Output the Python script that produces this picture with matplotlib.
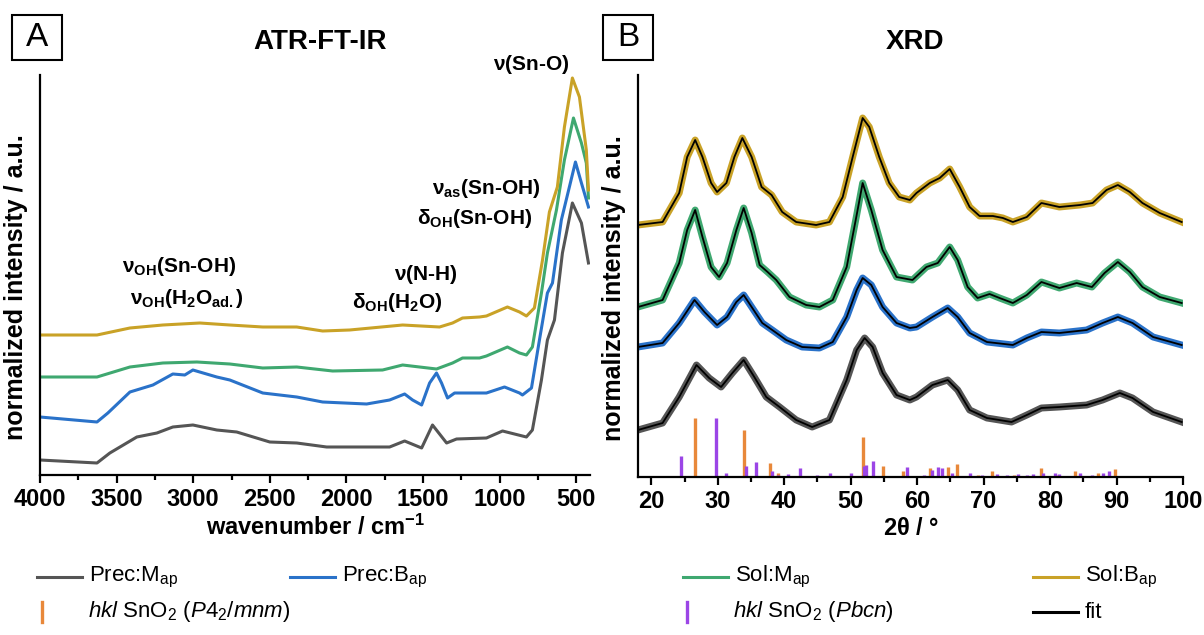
import matplotlib
matplotlib.use("Agg")
import matplotlib.pyplot as plt
from matplotlib.lines import Line2D
from matplotlib.patches import Rectangle
from matplotlib.ticker import MultipleLocator

plt.rcParams['font.family'] = ['Liberation Sans', 'DejaVu Sans']
plt.rcParams['mathtext.fontset'] = 'custom'
plt.rcParams['mathtext.rm'] = 'Liberation Sans'
plt.rcParams['mathtext.bf'] = 'Liberation Sans:bold'
plt.rcParams['mathtext.it'] = 'Liberation Sans:italic'
plt.rcParams['mathtext.default'] = 'regular'

# ---- ATR-FT-IR (wavenumber / cm-1, stacked intensity in a.u.) ----
ir_wn_prec_m = [4000, 3628, 3544, 3368, 3237, 3133, 3002, 2846, 2716, 2500, 2324, 2129, 1718,
                1620, 1509, 1438, 1346, 1281, 1086, 981, 825, 786, 727, 688, 642, 590, 525,
                466, 420]
ir_prec_m = [15, 12, 22, 38, 42, 48, 50, 45, 43, 33, 32, 28, 28,
             34, 27, 50, 32, 36, 37, 44, 38, 45, 95, 135, 155, 222, 272,
             252, 212]

ir_wn_prec_b = [4000, 3628, 3557, 3413, 3263, 3133, 3055, 3002, 2846, 2761, 2546, 2324, 2155,
                1868, 1718, 1620, 1568, 1509, 1457, 1412, 1379, 1340, 1294, 1216, 1086, 968,
                870, 851, 792, 740, 688, 655, 597, 505, 466, 420]
ir_prec_b = [58, 53, 62, 83, 90, 101, 100, 105, 98, 95, 82, 78, 73,
             71, 75, 81, 75, 70, 92, 102, 92, 77, 82, 82, 82, 88,
             82, 80, 87, 135, 182, 192, 255, 313, 292, 268]

ir_wn_sol_m = [4000, 3628, 3413, 3198, 2976, 2761, 2546, 2324, 2090, 1764, 1633, 1412, 1307,
               1242, 1131, 1086, 949, 870, 825, 786, 727, 688, 629, 577, 518, 466, 434, 420]
ir_sol_m = [98, 98, 108, 112, 113, 111, 107, 108, 104, 105, 110, 106, 112,
            117, 117, 119, 128, 122, 120, 128, 182, 222, 265, 315, 357, 332, 312, 277]

ir_wn_sol_b = [4000, 3628, 3413, 3198, 2957, 2761, 2546, 2324, 2155, 1979, 1633, 1392, 1307,
               1242, 1131, 1086, 949, 870, 825, 773, 720, 675, 623, 577, 525, 479, 434, 420]
ir_sol_b = [140, 140, 147, 150, 152, 150, 148, 148, 144, 145, 150, 148, 152,
            157, 158, 159, 168, 163, 159, 167, 215, 263, 288, 348, 397, 378, 325, 285]

# ---- XRD (2theta / deg, stacked intensity in a.u.) ----
xrd_tt_prec_m = [18.0, 21.7, 24.2, 26.8, 28.7, 30.5, 32.2, 33.9, 35.5, 37.3, 39.3, 41.8, 44.2,
                 46.8, 49.4, 50.9, 52.1, 53.3, 54.8, 56.9, 58.9, 59.9, 62.3, 64.6, 66.1, 67.9,
                 70.5, 74.2, 76.5, 78.7, 81.4, 85.5, 87.9, 90.5, 92.4, 95.5, 99.8]
xrd_prec_m = [47, 54, 80, 112, 99, 90, 104, 117, 100, 80, 70, 57, 50,
              57, 97, 127, 139, 130, 104, 82, 77, 80, 92, 97, 87, 67,
              59, 55, 62, 69, 70, 72, 77, 84, 79, 65, 55]

xrd_tt_prec_b = [18.0, 21.7, 24.2, 26.5, 28.0, 29.9, 31.4, 32.8, 33.9, 35.1, 36.7, 38.2, 40.3,
                 42.7, 45.3, 47.3, 49.4, 50.9, 51.8, 53.1, 54.8, 56.9, 58.9, 59.9, 62.3, 64.6,
                 66.1, 67.9, 70.5, 74.4, 76.5, 78.7, 81.4, 85.5, 87.9, 90.2, 92.4, 95.5, 99.8]
xrd_prec_b = [130, 134, 154, 177, 165, 152, 160, 175, 182, 170, 154, 147, 137,
              130, 129, 135, 160, 187, 199, 192, 170, 154, 149, 150, 160, 169,
              160, 144, 135, 132, 139, 145, 144, 147, 154, 160, 154, 140, 132]

xrd_tt_sol_m = [18.0, 21.7, 24.2, 25.4, 26.6, 27.7, 29.0, 30.2, 31.4, 32.8, 33.9, 35.1, 36.3,
                37.5, 38.8, 40.8, 43.3, 45.3, 47.3, 49.4, 50.9, 51.8, 53.1, 54.8, 56.9, 59.3,
                61.4, 63.1, 64.9, 66.1, 67.6, 69.1, 70.9, 72.4, 74.4, 76.5, 78.7, 81.4, 84.0,
                86.3, 88.2, 90.2, 92.0, 93.9, 96.5, 99.8]
xrd_sol_m = [170, 177, 214, 247, 267, 240, 210, 200, 214, 247, 269, 244, 212,
             205, 197, 180, 172, 170, 177, 210, 262, 294, 267, 227, 200, 197,
             210, 214, 230, 217, 190, 179, 183, 179, 174, 182, 195, 189, 194,
             190, 204, 215, 205, 190, 180, 174]

xrd_tt_sol_b = [18.0, 21.7, 24.2, 25.4, 26.6, 27.7, 29.0, 29.9, 31.3, 32.5, 33.7, 35.1, 36.6,
                38.1, 39.7, 41.8, 44.8, 46.8, 48.8, 50.3, 51.8, 52.8, 54.3, 55.8, 57.3, 58.9,
                59.9, 61.9, 63.4, 64.9, 66.4, 67.9, 69.4, 71.4, 72.9, 74.4, 76.5, 78.7, 81.4,
                84.5, 86.4, 88.5, 90.2, 92.0, 93.9, 96.5, 99.8]
xrd_sol_b = [252, 255, 284, 320, 337, 320, 294, 285, 294, 320, 339, 320, 290,
             282, 265, 255, 252, 255, 280, 320, 359, 350, 320, 294, 280, 277,
             284, 294, 299, 308, 290, 270, 261, 261, 259, 255, 260, 274, 270,
             272, 274, 287, 292, 285, 274, 264, 255]

# reference reflections
hkl_p42mnm_pos = [26.6, 33.9, 37.9, 39.0, 51.8, 54.8, 57.8, 61.9, 64.7, 66.0, 69.2, 71.3, 74.5,
                  78.7, 81.1, 83.7, 84.5, 87.2, 89.8]
hkl_p42mnm_h = [59, 47, 14, 4, 40, 11, 6, 9, 10, 13, 2, 6, 2, 9, 2, 6, 2, 4, 8]
hkl_pbcn_pos = [24.4, 29.8, 31.3, 34.2, 35.7, 38.1, 39.1, 40.6, 42.4, 45.0, 46.9, 50.1, 52.0,
                52.3, 53.3, 58.4, 61.1, 62.2, 63.2, 63.8, 65.2, 67.9, 69.8, 72.0, 73.5, 75.1,
                76.5, 77.4, 78.9, 80.7, 81.4, 84.5, 86.3, 87.9, 88.8]
hkl_pbcn_h = [21, 59, 4, 11, 15, 6, 2, 3, 9, 2, 4, 4, 11, 12, 16, 10, 2, 7, 10, 9, 4, 4, 2, 3,
              2, 3, 2, 3, 4, 4, 3, 4, 2, 4, 6]

c_prec_m = '#555555'
c_prec_b = '#2a72c9'
c_sol_m = '#3fa870'
c_sol_b = '#c9a227'
c_p42 = '#e8883a'
c_pbcn = '#9b45e6'

W, H = 1204, 635
fig = plt.figure(figsize=(W / 100, H / 100), dpi=100)


def fx(x):
    return x / W


def fy(y):
    return 1 - y / H


axA = fig.add_axes([fx(40), fy(475), fx(590) - fx(40), fy(75) - fy(475)])
axB = fig.add_axes([fx(638), fy(477), fx(1183) - fx(638), fy(75) - fy(477)])

# panel A
axA.plot(ir_wn_prec_m, ir_prec_m, color=c_prec_m, lw=2.2)
axA.plot(ir_wn_prec_b, ir_prec_b, color=c_prec_b, lw=2.2)
axA.plot(ir_wn_sol_m, ir_sol_m, color=c_sol_m, lw=2.2)
axA.plot(ir_wn_sol_b, ir_sol_b, color=c_sol_b, lw=2.2)
axA.set_xlim(4000, 410)
axA.set_ylim(0, 400)
axA.xaxis.set_major_locator(MultipleLocator(500))
axA.xaxis.set_minor_locator(MultipleLocator(250))
axA.set_xlabel('wavenumber / cm$^{\\mathbf{-1}}$', fontsize=17, fontweight='bold')

ann_kw = dict(fontsize=15, fontweight='bold', ha='center', va='center')
axA.text(792, 410, r'$\nu$(Sn-O)', **ann_kw)
axA.text(1086, 287, r'$\nu_{\mathbf{as}}$(Sn-OH)', **ann_kw)
axA.text(1164, 257, r'$\delta_{\mathbf{OH}}$(Sn-OH)', **ann_kw)
axA.text(1483, 200, r'$\nu$(N-H)', **ann_kw)
axA.text(1666, 172, r'$\delta_{\mathbf{OH}}$(H$_{\mathbf{2}}$O)', **ann_kw)
axA.text(3094, 208, r'$\nu_{\mathbf{OH}}$(Sn-OH)', **ann_kw)
axA.text(3042, 177, r'$\nu_{\mathbf{OH}}$(H$_{\mathbf{2}}$O$_{\mathbf{ad.}}$)', **ann_kw)

# panel B
for tt, yy, col in [(xrd_tt_prec_m, xrd_prec_m, c_prec_m), (xrd_tt_prec_b, xrd_prec_b, c_prec_b),
                    (xrd_tt_sol_m, xrd_sol_m, c_sol_m), (xrd_tt_sol_b, xrd_sol_b, c_sol_b)]:
    axB.plot(tt, yy, color=col, lw=5, solid_joinstyle='round')
    axB.plot(tt, yy, color='black', lw=1.3, solid_joinstyle='round')
axB.vlines(hkl_p42mnm_pos, 0, hkl_p42mnm_h, color=c_p42, lw=2.4)
axB.vlines(hkl_pbcn_pos, 0, hkl_pbcn_h, color=c_pbcn, lw=2.4)
axB.set_xlim(18, 100)
axB.set_ylim(0, 402)
axB.xaxis.set_major_locator(MultipleLocator(10))
axB.xaxis.set_minor_locator(MultipleLocator(5))
axB.set_xticks(range(20, 101, 10))
axB.set_xlabel('2$\\mathbf{\\theta}$ / °', fontsize=17, fontweight='bold')

for ax in (axA, axB):
    for s in ('top', 'right'):
        ax.spines[s].set_visible(False)
    for s in ('left', 'bottom'):
        ax.spines[s].set_linewidth(1.6)
    ax.set_yticks([])
    ax.tick_params(axis='x', which='major', direction='out', length=6, width=1.6,
                   labelsize=17, pad=3)
    ax.tick_params(axis='x', which='minor', direction='out', length=3.5, width=1.6)
    for lab in ax.get_xticklabels():
        lab.set_fontweight('bold')
    ax.set_ylabel('normalized intensity / a.u.', fontsize=18, fontweight='bold')
    ax.yaxis.set_label_coords(-0.022, 0.47)
    ax.xaxis.set_label_coords(0.5, -0.1)
    ax.patch.set_alpha(0)

# titles and panel letters
fig.text(fx(320), fy(42), 'ATR-FT-IR', fontsize=20, fontweight='bold', ha='center', va='center')
fig.text(fx(915), fy(42), 'XRD', fontsize=20, fontweight='bold', ha='center', va='center')
for letter, x0 in [('A', 12), ('B', 603)]:
    fig.add_artist(Rectangle((fx(x0), fy(60)), fx(50), fy(15) - fy(60),
                             transform=fig.transFigure, fill=False, lw=1.5, ec='black'))
    fig.text(fx(x0 + 25), fy(38), letter, fontsize=24, ha='center', va='center')

# legend
leg_fs = 16


def leg_line(x0, y, color, label):
    fig.add_artist(Line2D([fx(x0), fx(x0 + 45)], [fy(y), fy(y)], color=color, lw=2.2,
                          transform=fig.transFigure))
    fig.text(fx(x0 + 52), fy(y), label, fontsize=leg_fs, va='center', ha='left')


def leg_bar(x0, y, color, label):
    fig.add_artist(Line2D([fx(x0), fx(x0)], [fy(y - 10), fy(y + 10)], color=color, lw=2.4,
                          transform=fig.transFigure))
    fig.text(fx(x0 + 46), fy(y), label, fontsize=leg_fs, va='center', ha='left')


leg_line(37, 577, c_prec_m, 'Prec:M$_{ap}$')
leg_line(290, 577, c_prec_b, 'Prec:B$_{ap}$')
leg_line(683, 577, c_sol_m, 'Sol:M$_{ap}$')
leg_line(1033, 577, c_sol_b, 'Sol:B$_{ap}$')
leg_bar(42, 612, c_p42, r'$\mathit{hkl}$ SnO$_2$ ($\mathit{P}$4$_2$/$\mathit{mnm}$)')
leg_bar(687, 612, c_pbcn, r'$\mathit{hkl}$ SnO$_2$ ($\mathit{Pbcn}$)')
leg_line(1033, 612, 'black', 'fit')

fig.savefig('out.png', dpi=100)
